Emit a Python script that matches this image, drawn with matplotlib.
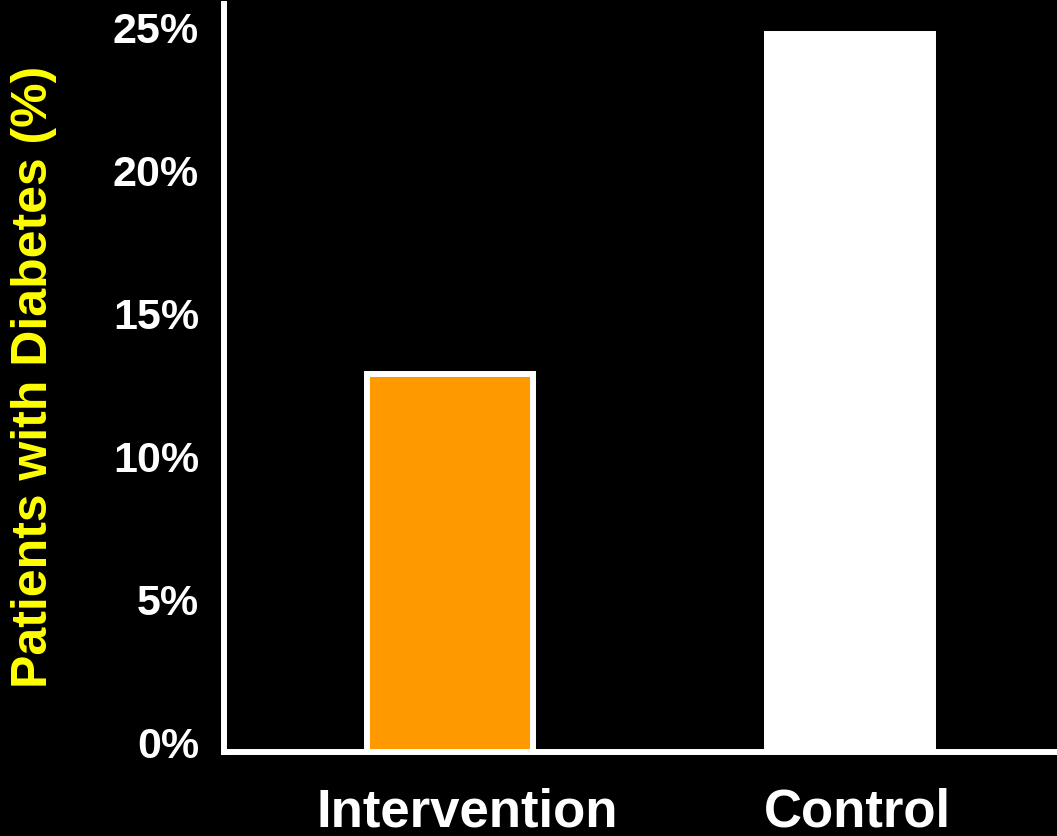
import matplotlib
matplotlib.use("Agg")
import matplotlib.pyplot as plt
from matplotlib.transforms import ScaledTranslation

groups = ["Intervention", "Control"]
diabetes_pct = [13.2, 25.1]
bar_colors = ["#FF9900", "#FFFFFF"]
y_ticks = [0, 5, 10, 15, 20, 25]
y_tick_labels = ["0%", "5%", "10%", "15%", "20%", "25%"]

W, H, DPI = 1057, 837, 100
fig = plt.figure(figsize=(W / DPI, H / DPI), dpi=DPI, facecolor="black")
ax = fig.add_axes([224 / W, (H - 753) / H, (W - 224) / W, (753 - 5) / H])
ax.set_facecolor("black")

x = list(range(len(groups)))
ax.bar(x, diabetes_pct, width=0.415, color=bar_colors, edgecolor="white",
       linewidth=4.3, zorder=2)

ax.set_xlim(-0.565, 1.5175)
ax.set_ylim(0, 26.15)

for side in ("top", "right"):
    ax.spines[side].set_visible(False)
for side in ("left", "bottom"):
    ax.spines[side].set_color("white")
    ax.spines[side].set_linewidth(4.3)
    ax.spines[side].set_zorder(3)

font = "Liberation Sans"
ax.set_yticks(y_ticks)
ax.set_yticklabels(y_tick_labels, fontsize=31, fontweight="bold",
                   color="white", family=font)
ax.tick_params(axis="y", length=0, pad=18)
for lbl in ax.get_yticklabels():
    lbl.set_transform(lbl.get_transform() +
                      ScaledTranslation(0, 10 / DPI, fig.dpi_scale_trans))

ax.set_xticks(x)
ax.set_xticklabels(groups, fontsize=38, fontweight="bold",
                   color="white", family=font)
ax.tick_params(axis="x", length=0, pad=25)
x_shift = [17, 7]
for lbl, dx in zip(ax.get_xticklabels(), x_shift):
    lbl.set_transform(lbl.get_transform() +
                      ScaledTranslation(dx / DPI, 0, fig.dpi_scale_trans))

fig.text(34 / W, 1 - 377 / H, "Patients with Diabetes (%)", rotation=90,
         ha="center", va="center", fontsize=36, fontweight="bold",
         color="#FFFF00", family=font)

fig.savefig("out.png", dpi=DPI, facecolor="black")
